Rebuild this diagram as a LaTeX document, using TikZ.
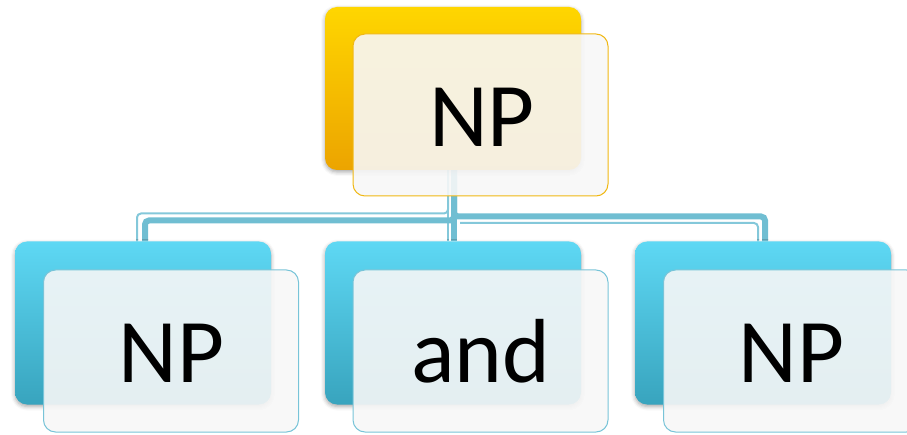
\documentclass[tikz,border=0pt]{standalone}
\usepackage{fontspec}
\setmainfont{Carlito}
\usetikzlibrary{calc,shadows.blur}
\pgfdeclarelayer{background}
\pgfsetlayers{background,main}

\definecolor{goldTop}{RGB}{255,214,0}
\definecolor{goldBot}{RGB}{236,164,0}
\definecolor{goldEdge}{RGB}{240,184,20}
\definecolor{cyanTop}{RGB}{94,216,244}
\definecolor{cyanBot}{RGB}{56,164,190}
\definecolor{cyanEdge}{RGB}{120,196,216}
\definecolor{linkBlue}{RGB}{112,190,210}
\definecolor{linkPale}{RGB}{132,200,218}
\definecolor{cardFill}{RGB}{247,247,247}

\tikzset{
  backbox/.style={rounded corners=12pt, minimum width=256pt, minimum height=163pt,
    inner sep=0pt, outer sep=0pt,
    blur shadow={shadow xshift=0pt, shadow yshift=-2pt, shadow blur radius=4pt, shadow opacity=35}},
  goldback/.style={backbox, top color=goldTop, bottom color=goldBot},
  cyanback/.style={backbox, top color=cyanTop, bottom color=cyanBot},
  cardbox/.style={rounded corners=12pt, minimum width=255pt, minimum height=162pt,
    inner sep=0pt, outer sep=0pt, fill=cardFill, fill opacity=0.9, line width=1pt},
  goldcard/.style={cardbox, draw=goldEdge},
  cyancard/.style={cardbox, draw=cyanEdge},
  wordtext/.style={anchor=base, inner sep=0pt, text=black, font=\fontsize{91}{91}\selectfont},
  thicklink/.style={draw=linkBlue, line width=6pt, rounded corners=4pt},
  thinlink/.style={draw=linkPale, line width=2pt, rounded corners=4pt},
}

\begin{document}
\begin{tikzpicture}[x=1pt, y=-1pt]
  \useasboundingbox (0,0) rectangle (907,435);
  \clip (0,0) rectangle (907,435);

  % back panels
  \node[goldback] (rootback) at (453,88.5) {};
  \node[cyanback] (leftback) at (143,323) {};
  \node[cyanback] (midback)  at (453,323) {};
  \node[cyanback] (rightback) at (763,323) {};

  % front cards
  \node[goldcard] (rootcard)  at (480.5,115) {};
  \node[cyancard] (leftcard)  at (171,351) {};
  \node[cyancard] (midcard)   at (480.5,351) {};
  \node[cyancard] (rightcard) at (791,351) {};

  % words
  \node[wordtext] (roottext)  at ($(rootcard.center)+(1.5,32)$) {NP};
  \node[wordtext] (lefttext)  at ($(leftcard.center)+(0.5,31)$) {NP};
  \node[wordtext] (midtext)   at ($(midcard.center)+(0.5,31)$) {and};
  \node[wordtext] (righttext) at ($(rightcard.center)+(0.5,31)$) {NP};

  % connectors behind the panels
  \begin{pgfonlayer}{background}
    \draw[thinlink] ($(rootback.south)+(-5,0)$) |- ($(leftback.north)+(-6,-28)$) -- ($(leftback.north)+(-6,0)$);
    \draw[thinlink] ($(rootback.south)+(-5,0)$) -- ($(midback.north)+(-5,0)$);
    \draw[thinlink] ($(rootback.south)+(7,53)$) -| ($(rightback.north)+(-5,0)$);
    \draw[thicklink] ($(rootback.south)+(1,0)$) |- ($(leftback.north)+(2,-21)$) -- ($(leftback.north)+(2,0)$);
    \draw[thicklink] ($(rootback.south)+(1,0)$) -- ($(midback.north)+(1,0)$);
    \draw[thicklink] ($(rootback.south)+(1,0)$) |- ($(rightback.north)+(2,-25)$) -- ($(rightback.north)+(2,0)$);
  \end{pgfonlayer}
\end{tikzpicture}
\end{document}
